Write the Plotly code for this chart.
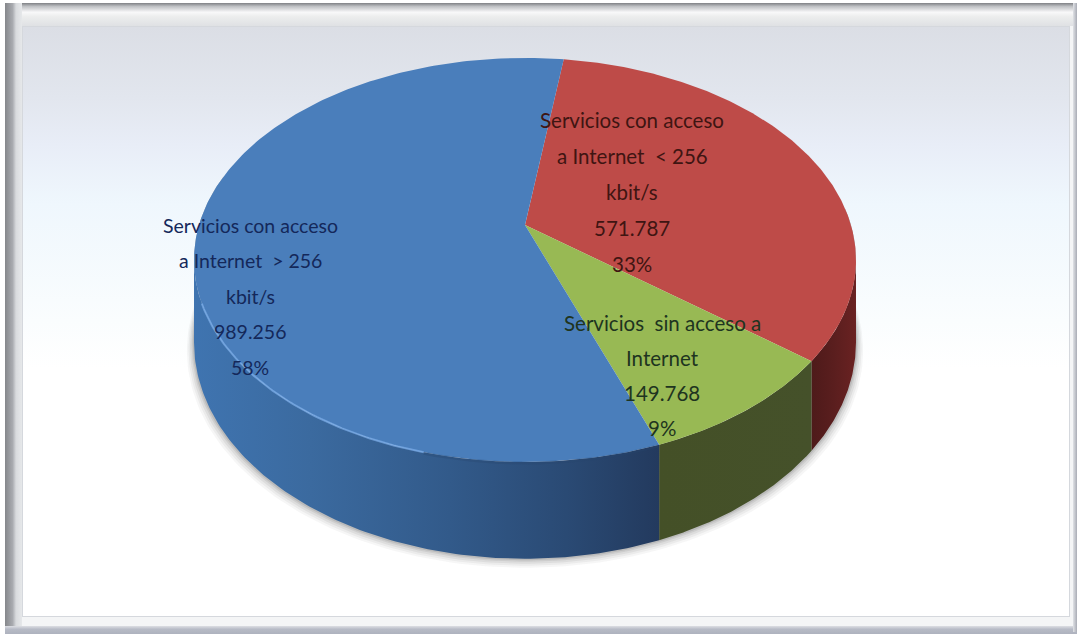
import numpy as np
import plotly.graph_objects as go

# ---- data ----
categories = ["Servicios con acceso a Internet > 256 kbit/s",
              "Servicios con acceso a Internet < 256 kbit/s",
              "Servicios sin acceso a Internet"]
values = [989256, 571787, 149768]
label_lines = [["Servicios con acceso", "a Internet  > 256", "kbit/s"],
               ["Servicios con acceso", "a Internet  < 256", "kbit/s"],
               ["Servicios  sin acceso a", "Internet"]]
top_colors = ["#4a7ebb", "#be4b48", "#98b954"]
text_colors = ["#14285a", "#3f1512", "#1e3420"]

# ---- geometry of the drawing (pixel space) ----
W, H = 1078, 634
CX, CY = 525, 225
A, B, C, DEPTH = 196, 326, 0.173, 80
START = 8.0           # first slice boundary, degrees clockwise from north


def project(theta, drop=0.0, grow=1.0):
    t = np.radians(theta)
    u, v = np.sin(t), np.cos(t)
    k = 1 + C * v
    return CX + grow * B * u / k, CY - grow * A * v / k + drop * DEPTH / k


fracs = np.array(values) / sum(values)
# order clockwise from the start: red, green, blue
order = [1, 2, 0]
edges = {}
a = START
for i in order:
    edges[i] = (a, a + fracs[i] * 360)
    a += fracs[i] * 360

fig = go.Figure()


def poly(x, y, color=None, grad=None):
    kw = dict(x=list(x), y=list(y), mode="lines", fill="toself", hoverinfo="skip",
              showlegend=False, line=dict(width=0))
    if grad is not None:
        kw["fillgradient"] = grad
    else:
        kw["fillcolor"] = color
    fig.add_trace(go.Scatter(**kw))


def rect(x0, y0, x1, y1, color=None, grad=None):
    poly([x0, x1, x1, x0, x0], [y0, y0, y1, y1, y0], color, grad)


def vgrad(y0, y1, stops):
    return dict(type="vertical", start=y0, stop=y1, colorscale=stops)


def hgrad(x0, x1, stops):
    return dict(type="horizontal", start=x0, stop=x1, colorscale=stops)


# frame
rect(5, 3, W - 1, 632, "#f4f5f6")
rect(5, 3, W - 1, 26, grad=vgrad(3, 26, [[0, "#7f8185"], [0.15, "#bfc1c4"], [0.4, "#f8f8f9"],
                                         [0.6, "#eceded"], [1, "#dfe1e4"]]))
rect(5, 3, 22, 632, grad=hgrad(5, 22, [[0, "#85878b"], [0.45, "#a9abb0"], [0.65, "#d9dbde"], [1, "#e6e8ea"]]))
rect(5, 626, W - 1, 634, grad=vgrad(626, 634, [[0, "#dcdee3"], [0.4, "#b7bbc6"], [1, "#aeb2be"]]))
rect(W - 5, 3, W - 1, 632, grad=hgrad(W - 5, W - 1, [[0, "#e0e2e6"], [1, "#a9acb5"]]))
rect(22, 26, 1070, 617, "#d5d8dd")
rect(23, 27, 1069, 616, grad=vgrad(27, 616, [[0, "#dbdee5"], [0.12, "#e2e6ee"], [0.2, "#e8edf7"],
                                            [0.3, "#eff7fd"], [0.5, "#fafdfe"], [0.58, "#ffffff"], [1, "#ffffff"]]))

# soft shadow under the front of the disc
edge = np.linspace(85, 285, 160)
for off, alpha in [(9, 0.05), (7, 0.06), (5, 0.08), (3, 0.10), (1.5, 0.14)]:
    xa, ya = project(edge, 1.0)
    xb, yb = project(edge[::-1], 0.0)
    poly(np.r_[xa + np.sin(np.radians(edge)) * off * 0.8, xb], np.r_[ya + off, yb],
         f"rgba(70,70,70,{alpha})")

# side walls
lo = np.degrees(np.arccos(-C))
hi = 360 - lo
wall_grads = {
    0: [[0, "#3f74b0"], [0.25, "#3b6a9f"], [0.55, "#325a8a"], [0.8, "#2a4a74"], [1, "#233a5e"]],
    1: [[0, "#4e1a1a"], [0.5, "#5a1e1e"], [1, "#6a2222"]],
    2: [[0, "#445027"], [1, "#45512a"]],
}
for i in order:
    a0, a1 = edges[i]
    s, e = max(a0, lo), min(a1, hi)
    if e <= s:
        continue
    th = np.linspace(s, e, 120)
    x0, y0 = project(th, 0.0)
    x1, y1 = project(th[::-1], 1.0)
    xs = np.r_[x0, x1]
    poly(np.r_[xs, xs[0]], np.r_[y0, y1, y0[0]],
         grad=hgrad(float(xs.min()), float(xs.max()), wall_grads[i]))

# top faces
for i in order:
    a0, a1 = edges[i]
    th = np.linspace(a0, a1, 240)
    x, y = project(th)
    poly(np.r_[CX, x, CX], np.r_[CY, y, CY], top_colors[i])

# lit rim on the blue front edge
th = np.linspace(195, 248, 80)
x, y = project(th)
fig.add_trace(go.Scatter(x=x, y=y, mode="lines", line=dict(color="rgba(125,175,235,0.7)", width=2),
                         hoverinfo="skip", showlegend=False))
th = np.linspace(160, 195, 60)
x, y = project(th)
fig.add_trace(go.Scatter(x=x, y=y + 1, mode="lines", line=dict(color="rgba(40,70,110,0.3)", width=3),
                         hoverinfo="skip", showlegend=False))

# labels
anchor_x = [250, 632, 662]
first_y = [225, 120, 323]
step_y = [35.5, 36, 35]
font_size = [19.5, 20.5, 20.5]
for i in range(3):
    lines = label_lines[i] + [f"{values[i] / 1000:.3f}", f"{round(fracs[i] * 100)}%"]
    for j, txt in enumerate(lines):
        fig.add_annotation(x=anchor_x[i], y=first_y[i] + j * step_y[i], text=txt, showarrow=False,
                           xanchor="center", yanchor="middle",
                           font=dict(family="Lato, Roboto", size=font_size[i], color=text_colors[i]))

fig.update_xaxes(range=[0, W], visible=False, fixedrange=True)
fig.update_yaxes(range=[H, 0], visible=False, fixedrange=True)
fig.update_layout(width=W, height=H, margin=dict(l=0, r=0, t=0, b=0), paper_bgcolor="white",
                  plot_bgcolor="white", showlegend=False)
fig.write_html("out.html", config={"displayModeBar": False},
               post_script="document.body.style.margin='0';document.documentElement.style.overflow='hidden';")
